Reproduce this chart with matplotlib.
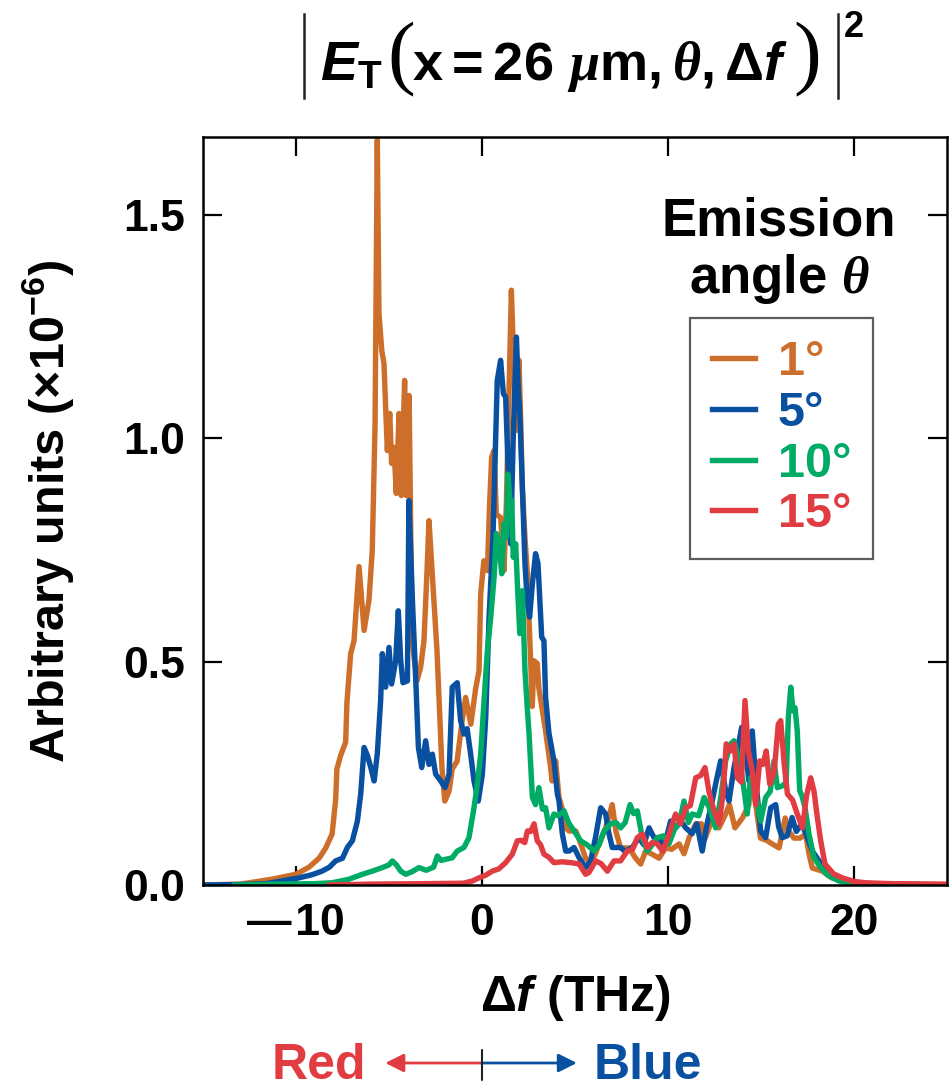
import matplotlib
matplotlib.use('Agg')
from matplotlib import pyplot as plt
from matplotlib.lines import Line2D

# 1 deg (orange)
x1 = [-15.0, -13.0, -12.5, -11.3, -10.0, -9.3, -8.76, -8.4, -8.06, -7.87, -7.8, -7.6, -7.33, -7.26,
      -7.06, -6.88, -6.61, -6.34, -6.08, -5.9, -5.75, -5.63, -5.54, -5.39, -5.27, -5.09, -4.96, -4.86,
      -4.73, -4.61, -4.46, -4.34, -4.16, -4.07, -3.92, -3.76, -3.5, -3.3, -3.12, -2.95, -2.85, -2.42,
      -2.15, -2.0, -1.77, -1.6, -1.34, -1.07, -0.88, -0.6, -0.34, -0.16, -0.07, 0.1, 0.29, 0.41, 0.52,
      0.65, 0.77, 1.0, 1.18, 1.31, 1.58, 1.72, 1.85, 1.99, 2.08, 2.17, 2.31, 2.44, 2.53, 2.62, 2.7,
      2.8, 2.97, 3.06, 3.4, 3.69, 3.77, 3.96, 4.14, 4.3, 4.5, 4.68, 5.04, 5.2, 5.57, 5.84, 6.1, 6.29,
      6.65, 7.0, 7.2, 7.45, 7.9, 8.26, 8.53, 8.8, 9.1, 9.52, 9.87, 10.2, 10.6, 10.86, 11.13, 11.49,
      11.8, 12.0, 12.4, 12.74, 13.1, 13.3, 13.6, 14.0, 14.35, 14.5, 14.65, 14.97, 15.3, 15.6, 15.97,
      16.3, 16.5, 16.77, 17.1, 17.4, 17.58, 17.76, 18.3, 18.8, 19.7, 21.0, 25.0]
y1 = [0.0, 0.002, 0.005, 0.013, 0.024, 0.04, 0.06, 0.083, 0.114, 0.19, 0.26, 0.29, 0.32, 0.41,
      0.518, 0.547, 0.713, 0.57, 0.637, 0.749, 1.03, 1.668, 1.28, 1.197, 1.168, 0.973, 1.056, 0.944,
      0.98, 0.877, 1.056, 0.872, 1.13, 0.872, 1.096, 0.547, 0.457, 0.487, 0.547, 0.71, 0.816, 0.525,
      0.26, 0.188, 0.21, 0.26, 0.277, 0.367, 0.42, 0.36, 0.44, 0.48, 0.652, 0.726, 0.704, 0.854, 0.958,
      0.973, 0.83, 0.823, 0.704, 0.854, 1.332, 1.152, 1.018, 1.175, 1.04, 0.89, 0.778, 0.697, 0.592, 0.496, 0.40,
      0.502, 0.496, 0.44, 0.35, 0.263, 0.233, 0.278, 0.195, 0.173, 0.128, 0.121, 0.121, 0.105, 0.06, 0.05, 0.07, 0.092,
      0.128, 0.18, 0.12, 0.083, 0.083, 0.06, 0.047, 0.076, 0.07, 0.06, 0.083, 0.08, 0.092, 0.07, 0.105, 0.137,
      0.137, 0.105, 0.15, 0.128, 0.159, 0.18, 0.128, 0.15, 0.18, 0.285, 0.2, 0.105, 0.1, 0.092, 0.083,
      0.15, 0.12, 0.105, 0.105, 0.114, 0.07, 0.038, 0.031, 0.016, 0.005, 0.002, 0.0]

# 5 deg (blue)
x5 = [-15.0, -13.0, -11.6, -9.84, -9.14, -8.6, -8.2, -7.87, -7.5, -7.24, -6.97, -6.7, -6.52, -6.34,
      -6.16, -5.98, -5.8, -5.63, -5.45, -5.36, -5.18, -5.0, -4.86, -4.64, -4.5, -4.37, -4.25, -4.01,
      -3.93, -3.74, -3.56, -3.42, -3.24, -3.03, -2.85, -2.67, -2.49, -2.22, -1.99, -1.77, -1.6, -1.33,
      -1.15, -0.97, -0.8, -0.61, -0.43, -0.2, 0.02, 0.2, 0.38, 0.59, 0.82, 1.0, 1.15, 1.27, 1.41, 1.54,
      1.68, 1.85, 1.95, 2.04, 2.17, 2.31, 2.44, 2.56, 2.71, 2.88, 3.01, 3.21, 3.33, 3.42, 3.6, 3.87,
      4.05, 4.14, 4.32, 4.5, 4.68, 4.95, 5.22, 5.57, 5.84, 6.1, 6.38, 6.65, 6.8, 7.0, 7.45, 7.7, 8.08,
      8.44, 8.7, 8.98, 9.25, 9.5, 9.78, 10.14, 10.4, 10.7, 10.95, 11.3, 11.55, 11.84, 12.1, 12.38,
      12.56, 12.83, 13.1, 13.28, 13.55, 13.73, 13.96, 14.15, 14.35, 14.53, 14.71, 14.98, 15.25, 15.52,
      15.79, 15.95, 16.14, 16.4, 16.67, 16.9, 17.2, 17.49, 17.76, 18.12, 18.5, 19.0, 19.7, 21.0, 25.0]
y5 = [0.0, 0.001, 0.003, 0.016, 0.023, 0.031, 0.04, 0.054, 0.06, 0.084, 0.099, 0.143, 0.204, 0.308,
      0.29, 0.263, 0.233, 0.293, 0.413, 0.518, 0.443, 0.532, 0.45, 0.502, 0.614, 0.502, 0.453, 0.457,
      0.861, 0.637, 0.457, 0.308, 0.263, 0.323, 0.27, 0.293, 0.248, 0.233, 0.218, 0.248, 0.443, 0.453,
      0.368, 0.338, 0.35, 0.293, 0.233, 0.188, 0.248, 0.375, 0.6, 0.779, 1.13, 1.175, 1.1, 1.093, 0.928, 0.764,
      1.003, 1.227, 1.115, 1.048, 0.89, 0.72, 0.63, 0.6, 0.675, 0.742, 0.72, 0.555, 0.547, 0.42, 0.34, 0.278,
      0.204, 0.188, 0.114, 0.076, 0.076, 0.084, 0.061, 0.039, 0.054, 0.106, 0.173, 0.159, 0.12, 0.084, 0.084, 0.075, 0.084,
      0.106, 0.09, 0.128, 0.106, 0.106, 0.084, 0.143, 0.128, 0.143, 0.128, 0.115, 0.137, 0.076, 0.137, 0.188,
      0.226, 0.278, 0.211, 0.188, 0.263, 0.3, 0.353, 0.31, 0.233, 0.345, 0.24, 0.121, 0.106, 0.173,
      0.18, 0.13, 0.106, 0.11, 0.151, 0.12, 0.137, 0.106, 0.076, 0.054, 0.035, 0.016, 0.005, 0.002, 0.0]

# 10 deg (green)
x10 = [-13.3, -11.0, -9.0, -8.06, -7.15, -6.43, -5.9, -5.36, -5.0, -4.82, -4.6, -4.37, -4.1, -3.75,
       -3.39, -3.0, -2.6, -2.4, -2.2, -1.9, -1.6, -1.33, -0.97, -0.7, -0.43, -0.25, -0.07, 0.11, 0.29,
       0.47, 0.65, 0.77, 0.91, 1.06, 1.18, 1.31, 1.4, 1.51, 1.6, 1.68, 1.81, 1.92, 2.03, 2.17, 2.31,
       2.43, 2.53, 2.71, 2.88, 3.06, 3.25, 3.42, 3.6, 3.87, 4.1, 4.41, 4.65, 4.95, 5.3, 5.65, 6.02, 6.3,
       6.56, 6.92, 7.2, 7.45, 7.7, 7.96, 8.15, 8.35, 8.62, 8.89, 9.15, 9.43, 9.75, 10.05, 10.35, 10.6,
       10.86, 11.1, 11.3, 11.65, 11.94, 12.2, 12.56, 12.85, 13.1, 13.37, 13.55, 13.8, 14.0, 14.26, 14.44,
       14.71, 14.98, 15.25, 15.5, 15.7, 15.88, 16.15, 16.35, 16.47, 16.6, 16.72, 16.83, 16.95, 17.08,
       17.2, 17.37, 17.58, 17.85, 18.21, 18.6, 19.19, 20.0, 25.0]
y10 = [0.0, 0.002, 0.003, 0.005, 0.013, 0.024, 0.031, 0.039, 0.045, 0.054, 0.045, 0.031, 0.024, 0.03,
       0.039, 0.033, 0.04, 0.065, 0.055, 0.058, 0.061, 0.076, 0.084, 0.106, 0.173, 0.226, 0.293, 0.413, 0.525,
       0.6, 0.689, 0.787, 0.764, 0.697, 0.809, 0.779, 0.92, 0.854, 0.861, 0.734, 0.764, 0.659, 0.563, 0.659, 0.48,
       0.40, 0.338, 0.196, 0.18, 0.218, 0.17, 0.173, 0.128, 0.159, 0.155, 0.166, 0.14, 0.121, 0.099, 0.09, 0.076, 0.09,
       0.121, 0.137, 0.14, 0.128, 0.14, 0.18, 0.16, 0.166, 0.106, 0.076, 0.09, 0.106, 0.11, 0.092, 0.125, 0.137,
       0.188, 0.14, 0.159, 0.155, 0.196, 0.175, 0.128, 0.2, 0.278, 0.316, 0.323, 0.28, 0.24, 0.159, 0.24,
       0.204, 0.143, 0.196, 0.21, 0.278, 0.218, 0.222, 0.23, 0.375, 0.443, 0.39, 0.397, 0.345, 0.211,
       0.2, 0.173, 0.114, 0.061, 0.039, 0.022, 0.009, 0.003, 0.0]

# 15 deg (red)
x15 = [-8.2, -6.0, -3.0, -1.0, -0.52, -0.16, 0.2, 0.55, 0.9, 1.27, 1.63, 1.9, 2.1, 2.3, 2.44, 2.62,
       2.8, 2.97, 3.15, 3.33, 3.6, 3.87, 4.3, 4.8, 5.22, 5.57, 5.75, 6.11, 6.4, 6.74, 7.1, 7.45, 7.81,
       8.1, 8.35, 8.62, 8.89, 9.15, 9.43, 9.7, 9.95, 10.23, 10.41, 10.68, 10.95, 11.2, 11.49, 11.75,
       11.99, 12.2, 12.47, 12.74, 12.95, 13.13, 13.35, 13.55, 13.73, 13.95, 14.14, 14.32, 14.53, 14.71,
       14.93, 15.1, 15.28, 15.47, 15.7, 15.93, 16.06, 16.25, 16.42, 16.7, 16.95, 17.23, 17.45, 17.67,
       17.85, 18.03, 18.21, 18.44, 18.9, 19.37, 20.0, 20.63, 22.0, 25.0]
y15 = [0.0, 0.002, 0.003, 0.004, 0.009, 0.016, 0.022, 0.031, 0.036, 0.05, 0.069, 0.099, 0.1, 0.095, 0.121, 0.12,
       0.137, 0.099, 0.09, 0.069, 0.062, 0.05, 0.052, 0.05, 0.047, 0.024, 0.028, 0.054, 0.048, 0.031, 0.054, 0.054, 0.076,
       0.08, 0.106, 0.114, 0.084, 0.095, 0.092, 0.076, 0.1, 0.137, 0.159, 0.137, 0.173, 0.178, 0.24, 0.245,
       0.263, 0.21, 0.166, 0.137, 0.2, 0.316, 0.3, 0.316, 0.24, 0.23, 0.413, 0.3, 0.256, 0.18,
       0.278, 0.27, 0.3, 0.226, 0.25, 0.36, 0.368, 0.27, 0.204, 0.19, 0.159, 0.128, 0.2, 0.24,
       0.21, 0.151, 0.099, 0.047, 0.025, 0.016, 0.008, 0.005, 0.003, 0.002]

labels = ['1°', '5°', '10°', '15°']
colors = ['#cd6f2b', '#0a50a1', '#00ac65', '#e23c43']
xticks = [-10, 0, 10, 20]
xticklabels = ['\u2014\u200a10', '0', '10', '20']
yticks = [0, 0.5, 1.0, 1.5]
yticklabels = ['0.0', '0.5', '1.0', '1.5']

plt.rcParams['font.family'] = ['Liberation Sans', 'DejaVu Sans']
plt.rcParams['font.weight'] = 'bold'
plt.rcParams['mathtext.fontset'] = 'custom'
plt.rcParams['mathtext.rm'] = 'Liberation Sans:bold'
plt.rcParams['mathtext.bf'] = 'Liberation Sans:bold'
plt.rcParams['mathtext.it'] = 'Liberation Sans:italic:bold'
plt.rcParams['mathtext.sf'] = 'Liberation Serif:italic:bold'

W, H = 952, 1090
def fp(x, y):  # pixel position (from top-left) -> figure fraction
    return x / W, 1 - y / H

fig = plt.figure(figsize=(W / 100, H / 100), dpi=100)
ax = fig.add_axes([203/W, 205/H, 744/W, 748/H])

for xs, ys, lab, c in zip([x1, x5, x10, x15], [y1, y5, y10, y15], labels, colors):
    ax.plot(xs, ys, c=c, lw=3.9, label=lab, solid_joinstyle='round')

ax.set_xlim(-15, 25)
ax.set_ylim(0, 1.675)
ax.set_xticks(xticks)
ax.set_xticklabels(xticklabels)
ax.set_yticks(yticks)
ax.set_yticklabels(yticklabels)
ax.tick_params(direction='in', length=14, width=1.6, labelsize=32, top=True, right=True)
ax.tick_params(axis='x', pad=13)
ax.tick_params(axis='y', pad=13)
for s in ax.spines.values():
    s.set_linewidth(1.8)

ax.set_xlabel(r'$\Delta f$ (THz)', fontsize=36, fontweight='bold', labelpad=21)
ax.set_ylabel(r'Arbitrary units ($\times$10$^{\mathrm{-6}}$)', fontsize=35, fontweight='bold', labelpad=34)

# title |E_T(x = 26 um, theta, df)|^2 built from pieces
fig.add_artist(Line2D([304/W, 304/W], [1 - 14/H, 1 - 98/H], color='#222222', lw=1.8))
fig.add_artist(Line2D([838/W, 838/W], [1 - 14/H, 1 - 98/H], color='#222222', lw=1.8))
fig.text(*fp(320, 80), r'$E_{\mathrm{T}}$', fontsize=40, ha='left', va='baseline')
fig.text(*fp(401, 60), '(', fontsize=60, fontweight='normal', family='Liberation Serif',
         ha='center', va='center')
fig.text(*fp(412, 80), r'$\mathrm{x} = \mathrm{26}\ \mathsf{\mu}\mathrm{m},\mathsf{\theta},\Delta f$',
         fontsize=39, ha='left', va='baseline')
fig.text(*fp(807, 60), ')', fontsize=60, fontweight='normal', family='Liberation Serif',
         ha='center', va='center')
fig.text(*fp(844, 10), '2', fontsize=26, ha='left', va='top')

# legend title sits above the framed box
fig.text(*fp(779, 235), 'Emission', fontsize=38, ha='center', va='baseline')
fig.text(*fp(779, 293), r'angle $\mathsf{\theta}$', fontsize=38, ha='center', va='baseline')

leg = ax.legend(loc='upper left', bbox_to_anchor=(0.6546, 0.758), frameon=True, fancybox=False,
                edgecolor='#333333', fontsize=35, handlelength=0.88, handletextpad=0.47,
                labelspacing=0.12, borderpad=0.45, borderaxespad=0)
leg.get_frame().set_linewidth(1.6)
for t, c in zip(leg.get_texts(), colors):
    t.set_color(c)

# red / blue shift arrow below the axis
ax.annotate('', xy=(-5.2, 27), xytext=(0, 27), xycoords=('data', 'figure pixels'),
            arrowprops=dict(arrowstyle='-|>', color=colors[3], lw=2, mutation_scale=28, shrinkA=0, shrinkB=0))
ax.annotate('', xy=(5.1, 27), xytext=(0, 27), xycoords=('data', 'figure pixels'),
            arrowprops=dict(arrowstyle='-|>', color=colors[1], lw=2, mutation_scale=28, shrinkA=0, shrinkB=0))
ax.annotate('', xy=(0, 10), xytext=(0, 40), xycoords=('data', 'figure pixels'),
            arrowprops=dict(arrowstyle='-', color='#222222', lw=1.5, shrinkA=0, shrinkB=0))
ax.annotate('Red', xy=(-8.76, 24), xycoords=('data', 'figure pixels'), ha='center', va='center',
            fontsize=36, color=colors[3], annotation_clip=False)
ax.annotate('Blue', xy=(8.9, 24), xycoords=('data', 'figure pixels'), ha='center', va='center',
            fontsize=36, color=colors[1], annotation_clip=False)

plt.savefig('out.png', dpi=100)
